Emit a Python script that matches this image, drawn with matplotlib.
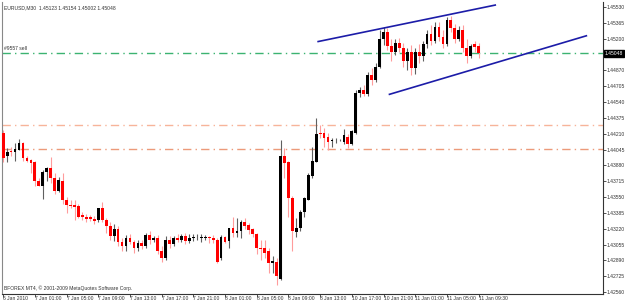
import numpy as np
import matplotlib
matplotlib.use("Agg")
import matplotlib.pyplot as plt

plt.rcParams['font.family'] = ['Liberation Sans', 'DejaVu Sans']

# EURUSD M30 candles (bar index = position on chart)
opens = [1.4422, 1.4398, 1.4403, 1.4402, 1.4404, 1.4411, 1.4396, 1.4394, 1.4391, 1.4372,
         1.4366, 1.4381, 1.4385, 1.4375, 1.4361, 1.4372, 1.4352, 1.4347, 1.4347, 1.4346,
         1.4336, 1.4334, 1.4334, 1.4332, 1.4331, 1.4344, 1.4331, 1.4325, 1.4314, 1.4322,
         1.4308, 1.4304, 1.4312, 1.4308, 1.4302, 1.4307, 1.4304, 1.4315, 1.4310, 1.4312,
         1.4299, 1.4291, 1.4310, 1.4306, 1.4312, 1.4310, 1.4314, 1.4309, 1.4312, 1.4313,
         1.4312, 1.4312, 1.4313, 1.4312, 1.4310, 1.4291, 1.4313, 1.4309, 1.4323, 1.4318,
         1.4320, 1.4329, 1.4326, 1.4322, 1.4317, 1.4302, 1.4302, 1.4299, 1.4286, 1.4287,
         1.4270, 1.4398, 1.4391, 1.4354, 1.4319, 1.4323, 1.4339, 1.4352, 1.4377, 1.4392,
         1.4422, 1.4422, 1.4418, 1.4413, 1.4414, 1.4414, 1.4412, 1.4418, 1.4410, 1.4422,
         1.4463, 1.4466, 1.4462, 1.4482, 1.4477, 1.4491, 1.4520, 1.4527, 1.4512, 1.4506,
         1.4516, 1.4510, 1.4497, 1.4506, 1.4489, 1.4506, 1.4502, 1.4514, 1.4525, 1.4518,
         1.4532, 1.4522, 1.4514, 1.4539, 1.4531, 1.4520, 1.4529, 1.4510, 1.4502, 1.4514,
         1.45123]
highs = [1.4425, 1.4406, 1.4407, 1.4411, 1.4415, 1.4412, 1.4398, 1.4395, 1.4393, 1.4375,
         1.4383, 1.4386, 1.4397, 1.4380, 1.4376, 1.4380, 1.4355, 1.4352, 1.4352, 1.4348,
         1.4339, 1.4337, 1.4336, 1.4335, 1.4337, 1.4350, 1.4333, 1.4329, 1.4327, 1.4325,
         1.4312, 1.4315, 1.4316, 1.4310, 1.4310, 1.4310, 1.4318, 1.4320, 1.4314, 1.4315,
         1.4304, 1.4314, 1.4314, 1.4314, 1.4316, 1.4317, 1.4318, 1.4316, 1.4316, 1.4317,
         1.4316, 1.4315, 1.4314, 1.4315, 1.4312, 1.4315, 1.4314, 1.4323, 1.4334, 1.4333,
         1.4331, 1.4333, 1.4328, 1.4323, 1.4318, 1.4310, 1.4310, 1.4302, 1.4294, 1.4291,
         1.4414, 1.4406, 1.4393, 1.4356, 1.4333, 1.4341, 1.4355, 1.4380, 1.4407, 1.4437,
         1.4430, 1.4427, 1.4422, 1.4416, 1.4416, 1.4415, 1.4426, 1.4421, 1.4425, 1.4466,
         1.4470, 1.4472, 1.4485, 1.4489, 1.4495, 1.4529, 1.4532, 1.4531, 1.4520, 1.4520,
         1.4521, 1.4516, 1.4510, 1.4513, 1.4510, 1.4514, 1.4518, 1.4529, 1.4534, 1.4537,
         1.4537, 1.4529, 1.4543, 1.4544, 1.4535, 1.4533, 1.4534, 1.4520, 1.4514, 1.4518,
         1.45154]
lows = [1.4391, 1.4391, 1.4398, 1.4393, 1.4404, 1.4393, 1.4391, 1.4380, 1.4367, 1.4366,
        1.4353, 1.4372, 1.4370, 1.4358, 1.4360, 1.4348, 1.4338, 1.4344, 1.4331, 1.4333,
        1.4331, 1.4329, 1.4330, 1.4327, 1.4329, 1.4329, 1.4318, 1.4310, 1.4309, 1.4304,
        1.4299, 1.4299, 1.4306, 1.4297, 1.4299, 1.4301, 1.4302, 1.4306, 1.4308, 1.4296,
        1.4287, 1.4289, 1.4302, 1.4304, 1.4308, 1.4308, 1.4306, 1.4307, 1.4309, 1.4310,
        1.4308, 1.4310, 1.4307, 1.4307, 1.4286, 1.4289, 1.4307, 1.4302, 1.4313, 1.4313,
        1.4312, 1.4322, 1.4317, 1.4313, 1.4296, 1.4289, 1.4292, 1.4276, 1.4276, 1.4263,
        1.4269, 1.4375, 1.4334, 1.4299, 1.4313, 1.4320, 1.4334, 1.4352, 1.4375, 1.4391,
        1.4417, 1.4407, 1.4404, 1.4407, 1.4411, 1.4413, 1.4410, 1.4406, 1.4409, 1.4421,
        1.4459, 1.4460, 1.4460, 1.4472, 1.4475, 1.4489, 1.4513, 1.4508, 1.4497, 1.4503,
        1.4506, 1.4491, 1.4487, 1.4482, 1.4483, 1.4495, 1.4497, 1.4510, 1.4513, 1.4516,
        1.4518, 1.4510, 1.4512, 1.4527, 1.4516, 1.4518, 1.4506, 1.4495, 1.4500, 1.4506,
        1.45002]
closes = [1.4396, 1.4402, 1.4402, 1.4405, 1.4411, 1.4396, 1.4393, 1.4390, 1.4372, 1.4367,
          1.4381, 1.4385, 1.4375, 1.4361, 1.4373, 1.4352, 1.4347, 1.4346, 1.4345, 1.4334,
          1.4334, 1.4332, 1.4332, 1.4330, 1.4344, 1.4331, 1.4325, 1.4314, 1.4322, 1.4308,
          1.4304, 1.4312, 1.4308, 1.4302, 1.4307, 1.4304, 1.4315, 1.4310, 1.4312, 1.4299,
          1.4291, 1.4310, 1.4306, 1.4312, 1.4310, 1.4314, 1.4309, 1.4312, 1.4313, 1.4313,
          1.4313, 1.4313, 1.4312, 1.4310, 1.4287, 1.4313, 1.4308, 1.4323, 1.4318, 1.4320,
          1.4329, 1.4325, 1.4321, 1.4317, 1.4302, 1.4301, 1.4297, 1.4286, 1.4288, 1.4273,
          1.4398, 1.4390, 1.4354, 1.4320, 1.4323, 1.4339, 1.4354, 1.4378, 1.4393, 1.4421,
          1.4421, 1.4417, 1.4412, 1.4414, 1.4414, 1.4414, 1.4420, 1.4410, 1.4424, 1.4463,
          1.4466, 1.4462, 1.4482, 1.4477, 1.4491, 1.4520, 1.4527, 1.4512, 1.4506, 1.4516,
          1.4510, 1.4497, 1.4506, 1.4489, 1.4506, 1.4502, 1.4514, 1.4525, 1.4518, 1.4532,
          1.4522, 1.4514, 1.4539, 1.4531, 1.4520, 1.4529, 1.4510, 1.4502, 1.4512, 1.4511,
          1.45048]

time_labels = ['6 Jan 2010', '7 Jan 01:00', '7 Jan 05:00', '7 Jan 09:00', '7 Jan 13:00',
               '7 Jan 17:00', '7 Jan 21:00', '8 Jan 01:00', '8 Jan 05:00', '8 Jan 09:00',
               '8 Jan 13:00', '10 Jan 17:00', '10 Jan 21:00', '11 Jan 01:00',
               '11 Jan 05:00', '11 Jan 09:30']
price_ticks = [1.42560, 1.42725, 1.42890, 1.43055, 1.43220, 1.43385, 1.43550, 1.43715,
               1.43880, 1.44045, 1.44210, 1.44375, 1.44540, 1.44705, 1.44870,
               1.45200, 1.45365, 1.45530]

# horizontal levels and channel lines (bar index, price)
order_level = 1.4505
levels = [1.4430, 1.4405]
upper_line = ([79.5, 124.2], [1.4517, 1.4555])
lower_line = ([97.5, 147.2], [1.4462, 1.4523])

o = np.array(opens); h = np.array(highs); l = np.array(lows); c = np.array(closes)
x = np.arange(len(o))
up = c >= o
fs = 3.6

fig = plt.figure(figsize=(6.25, 3.02), dpi=100)
ax = fig.add_axes([2 / 625, 8.5 / 302, 601 / 625, 291.5 / 302])

# wicks
ax.vlines(x[up], l[up], h[up], color='#606060', lw=0.8, zorder=2)
ax.vlines(x[~up], l[~up], h[~up], color='#ff9c9c', lw=0.8, zorder=2)
# bodies
body = np.maximum(np.abs(c - o), 0.00004)
ax.bar(x[up], body[up], bottom=np.minimum(o, c)[up], width=0.7, color='black', zorder=3)
ax.bar(x[~up], body[~up], bottom=np.minimum(o, c)[~up], width=0.7, color='#ff0000', zorder=3)

# levels
ax.axhline(order_level, color='#3cb371', lw=1, ls=(0, (6, 3, 1, 3)), zorder=1)
ax.axhline(levels[0], color='#f7b49a', lw=1, ls=(0, (6, 3, 1, 3)), zorder=1)
ax.axhline(levels[1], color='#ec9a7a', lw=1, ls=(0, (6, 3, 1, 3)), zorder=1)
ax.plot(*upper_line, color='#1c1ca8', lw=1.2, zorder=4)
ax.plot(*lower_line, color='#1c1ca8', lw=1.2, zorder=4)

ax.set_xlim(-0.3, 151.4)
ax.set_ylim(1.42545, 1.45582)

ax.yaxis.tick_right()
ax.set_yticks(price_ticks)
ax.set_yticklabels(['%.5f' % p for p in price_ticks])
ax.set_xticks(np.arange(0, 8 * len(time_labels), 8))
ax.set_xticklabels(time_labels, ha='left')
ax.tick_params(axis='both', labelsize=fs, length=1.8, width=0.6, colors='#333333', pad=0.5)
ax.tick_params(axis='x', pad=0.3)

ax.spines['top'].set_visible(False)
ax.spines['left'].set_color('#888888')
ax.spines['right'].set_color('#333333')
ax.spines['bottom'].set_color('#333333')
for s in ['left', 'right', 'bottom']:
    ax.spines[s].set_linewidth(0.8)

# current price marker on the price scale
ax.text(1.003, closes[-1], '%.5f' % closes[-1], transform=ax.get_yaxis_transform(),
        fontsize=fs, color='white', va='center', ha='left',
        bbox=dict(boxstyle='square,pad=0.15', fc='black', ec='black'), clip_on=False)

ax.text(0.003, 0.99, 'EURUSD,M30  1.45123 1.45154 1.45002 1.45048', transform=ax.transAxes,
        fontsize=fs, color='#333333', va='top', ha='left')
ax.text(0.003, order_level + 0.0002, '#9557 sell', fontsize=fs, color='#333333',
        va='bottom', ha='left', transform=ax.get_yaxis_transform())
ax.text(0.003, 0.008, 'BFOREX MT4, \u00a9 2001-2009 MetaQuotes Software Corp.',
        transform=ax.transAxes, fontsize=fs, color='#333333', va='bottom', ha='left')

fig.savefig('out.png', dpi=100, facecolor='white')
